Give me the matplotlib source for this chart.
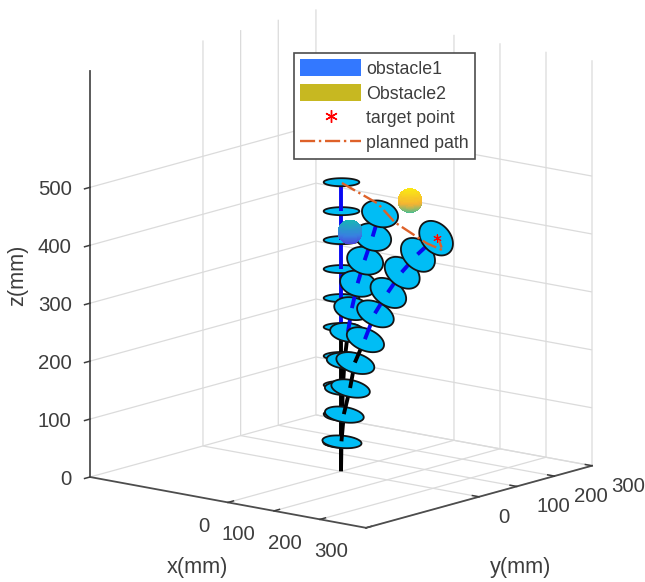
import numpy as np
import matplotlib
matplotlib.use("Agg")
import matplotlib.pyplot as plt
from matplotlib.colors import LinearSegmentedColormap
from matplotlib.lines import Line2D
from matplotlib.patches import Patch
from matplotlib.transforms import Affine2D
from mpl_toolkits.mplot3d import proj3d
from mpl_toolkits.mplot3d.art3d import Poly3DCollection

plt.rcParams['font.family'] = ['Liberation Sans', 'DejaVu Sans']

# ---- data (mm) ----
disc_x_arm1 = [0, 0, 0, 0, 0, 0, 0, 0, 0, 0]
disc_y_arm1 = [0, 0, 0, 0, 0, 0, 0, 0, 0, 0]
disc_z_arm1 = [50, 100, 150, 200, 250, 300, 350, 400, 450, 500]
disc_x_arm2 = [0, 4, 8, 16, 29, 45, 69, 98, 131, 159]
disc_y_arm2 = [0, -2, -5, -10, -17, -26, -40, -57, -76, -92]
disc_z_arm2 = [51, 99, 146, 196, 248, 293, 342, 389, 438, 485]
disc_x_arm3 = [1, 7, 23, 35, 61, 86, 119, 154, 194, 240]
disc_y_arm3 = [0, -1, -4, -6, -11, -15, -21, -27, -34, -42]
disc_z_arm3 = [52, 100, 148, 194, 239, 288, 330, 371, 409, 446]
path_x = [2, 80, 117, 186, 221, 208]
path_y = [0, 0, 0, 0, 0, 0]
path_z = [498, 474, 447, 421, 414, 439]
target_x = [208]
target_y = [0]
target_z = [434]
obstacle1 = (80, -74, 438)
obstacle2 = (100, 61, 471)
obstacle_radius = 20
xy_ticks = [0, 100, 200, 300]
z_ticks = [0, 100, 200, 300, 400, 500]
legend_labels = ['obstacle1', 'Obstacle2', 'target point', 'planned path']

DISC = (0.0, 0.74, 0.96)
EDGE = (0.08, 0.08, 0.08)
BLUE = (0.03, 0.03, 0.95)
PATH = (0.87, 0.38, 0.16)
TXT = (0.24, 0.24, 0.24)
AXC = (0.3, 0.3, 0.3)

fig = plt.figure(figsize=(6.45, 5.82), dpi=100)
ax = fig.add_axes([0, 0, 1, 1], projection='3d', proj_type='ortho',
                  computed_zorder=False)
ax.patch.set_visible(False)
ax.view_init(elev=13, azim=-50.7)
ax.set_xlim(-300, 300)
ax.set_ylim(-300, 300)
ax.set_zlim(0, 700)
ax.set_box_aspect((6, 6, 7), zoom=1.0)

ax.set_xticks(xy_ticks)
ax.set_yticks(xy_ticks)
ax.set_zticks(z_ticks)
for name in 'xyz':
    ax.tick_params(axis=name, labelsize=14.7, colors=TXT, pad=3)

for axis in (ax.xaxis, ax.yaxis, ax.zaxis):
    axis.set_pane_color((1, 1, 1, 0))
    axis.pane.set_edgecolor((1, 1, 1, 0))
    axis.line.set_color(AXC)
    axis.line.set_linewidth(1.3)
    axis._axinfo['grid'].update(color=(0.86, 0.86, 0.86), linewidth=0.9)
    axis._axinfo['tick'].update(inward_factor=0.0, outward_factor=0.3,
                                linewidth={True: 1.1, False: 0.5}, color=AXC)
# the z axis is moved to the other corner, so its ticks need the opposite sign to point outward
ax.zaxis._axinfo['tick'].update(inward_factor=0.3, outward_factor=0.0)
ax.zaxis.set_ticks_position('lower')
for lbl in ax.get_xticklabels():
    lbl.set_ha('right')
for lbl in ax.get_yticklabels():
    lbl.set_ha('left')
for lbl in ax.get_zticklabels():
    lbl.set_ha('right')


def offset_tick_labels(axis, dx, dy):
    """Nudge an axis' tick labels by a pixel offset (mplot3d resets the transform on every draw)."""
    original = axis.get_major_ticks
    shifted = ax.transData + Affine2D().translate(dx, dy)

    def patched(numticks=None):
        ticks = original(numticks)
        for t in ticks:
            t.label1.set_transform(shifted)
        return ticks
    axis.get_major_ticks = patched


offset_tick_labels(ax.xaxis, -7, 9)
offset_tick_labels(ax.yaxis, 5.5, 12)
offset_tick_labels(ax.zaxis, 7, 8)


def disc_poly(c, normal, radius):
    n = normal / np.linalg.norm(normal)
    e1 = np.cross(n, [1.0, 0.0, 0.0]) if abs(n[0]) < 0.9 else np.cross(n, [0.0, 1.0, 0.0])
    e1 /= np.linalg.norm(e1)
    e2 = np.cross(n, e1)
    t = np.linspace(0, 2 * np.pi, 60)
    pts = c + radius * (np.outer(np.cos(t), e1) + np.outer(np.sin(t), e2))
    return [tuple(p) for p in pts]


def draw_arm(xs, ys, zs, base_z, radius):
    pts = np.column_stack([xs, ys, zs]).astype(float)
    tangents = np.gradient(pts, axis=0)
    full = np.vstack([[0, 0, 0], pts])
    for i in range(len(pts)):
        color = 'black' if i < 5 else BLUE
        ax.plot(full[i:i + 2, 0], full[i:i + 2, 1], full[i:i + 2, 2], color=color, lw=2.8,
                solid_capstyle='butt', zorder=base_z + 2 * i)
        ax.add_collection3d(Poly3DCollection([disc_poly(pts[i], tangents[i], radius)],
                                             facecolor=DISC, edgecolor=EDGE,
                                             linewidth=1.3, zorder=base_z + 2 * i + 1))


draw_arm(disc_x_arm1, disc_y_arm1, disc_z_arm1, 10, 30)
draw_arm(disc_x_arm2, disc_y_arm2, disc_z_arm2, 40, 31)
draw_arm(disc_x_arm3, disc_y_arm3, disc_z_arm3, 70, 33)

ax.plot(path_x, path_y, path_z, color=PATH, lw=1.7, ls='-.', zorder=100)
ax.plot(target_x, target_y, target_z, ls='none', marker=(6, 2, 0), color='red', ms=6,
        mew=0.7, zorder=101)


def sphere(center, cmap, z):
    u = np.linspace(0, 2 * np.pi, 48)
    v = np.linspace(0, np.pi, 32)
    X = center[0] + obstacle_radius * np.outer(np.cos(u), np.sin(v))
    Y = center[1] + obstacle_radius * np.outer(np.sin(u), np.sin(v))
    Z = center[2] + obstacle_radius * np.outer(np.ones_like(u), np.cos(v))
    colors = cmap((Z - Z.min()) / (Z.max() - Z.min()))
    ax.plot_surface(X, Y, Z, facecolors=colors, shade=False, linewidth=0,
                    antialiased=False, rstride=1, cstride=1, zorder=z)


cm1 = LinearSegmentedColormap.from_list('o1', [(0.30, 0.22, 0.85), (0.22, 0.50, 0.88), (0.10, 0.70, 0.72)])
cm2 = LinearSegmentedColormap.from_list('o2', [(0.20, 0.75, 0.62), (0.96, 0.70, 0.20), (0.98, 0.90, 0.08)])
sphere(obstacle1, cm1, 120)
sphere(obstacle2, cm2, 121)

fig.text(197 / 645, 1 - 568 / 582, 'x(mm)', fontsize=15.6, color=TXT, ha='center', va='center')
fig.text(521 / 645, 1 - 567 / 582, 'y(mm)', fontsize=15.6, color=TXT, ha='center', va='center')
fig.text(18 / 645, 1 - 275 / 582, 'z(mm)', fontsize=15.6, color=TXT, ha='center', va='center', rotation=90)

handles = [Patch(facecolor=(0.2, 0.47, 1.0), edgecolor='none'),
           Patch(facecolor=(0.78, 0.72, 0.13), edgecolor='none'),
           Line2D([], [], ls='none', marker=(6, 2, 0), color='red', ms=9, mew=1.0),
           Line2D([], [], color=PATH, lw=1.7, ls='-.')]
leg = fig.legend(handles, legend_labels, loc='upper left',
                 bbox_to_anchor=(294 / 645, 1 - 53 / 582), borderaxespad=0,
                 fontsize=12.8, fancybox=False, framealpha=1, edgecolor=AXC,
                 handlelength=3.4, handleheight=1.05, handletextpad=0.3,
                 labelspacing=0.37, borderpad=0.36)
leg.get_frame().set_linewidth(1.2)
for t in leg.get_texts():
    t.set_color(TXT)


# fit the projected box to the reference corners
def corner_px(x, y, z):
    ax.apply_aspect()
    a, b, _ = proj3d.proj_transform(x, y, z, ax.get_proj())
    return ax.transData.transform((a, b))


l = corner_px(-300, -300, 0)
r = corner_px(300, 300, 0)
ax.set_box_aspect((6, 6, 7), zoom=(592 - 90) / (r[0] - l[0]))
l = corner_px(-300, -300, 0)
dx = 90 - l[0]
dy = (582 - 477) - l[1]
ax.set_position([dx / 645, dy / 582, 1, 1])

fig.savefig('out.png', dpi=100)
